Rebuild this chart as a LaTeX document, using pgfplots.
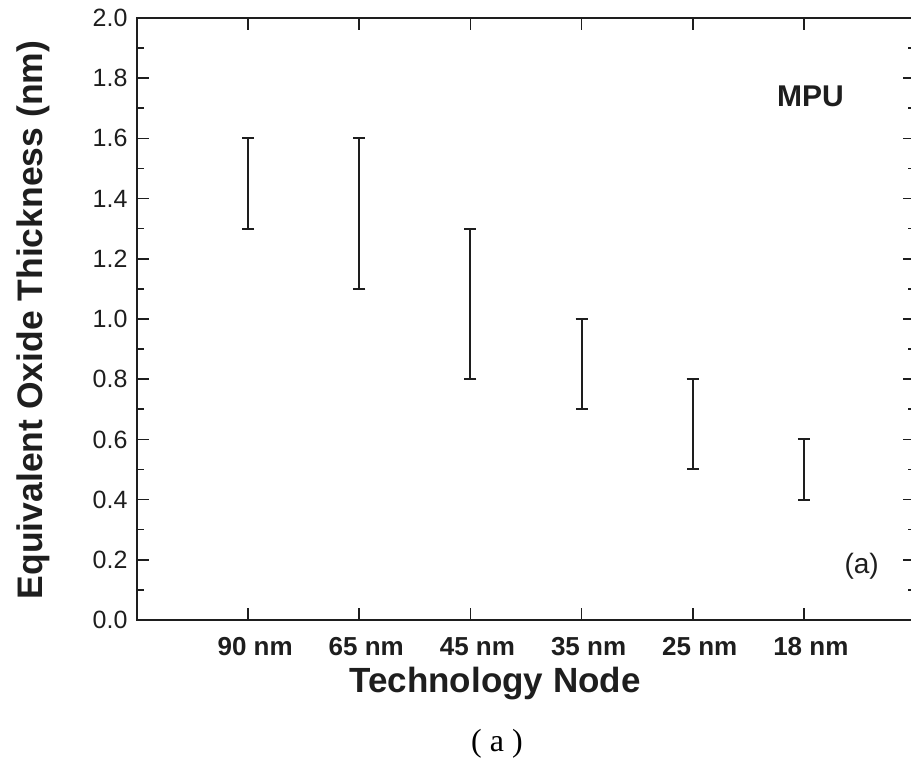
\documentclass[border=0pt]{standalone}
\usepackage{pgfplots}
\pgfplotsset{compat=1.18}
\usepackage{fontspec}
\setmainfont{Liberation Sans}
\newfontfamily\serif{Liberation Serif}
\definecolor{ink}{HTML}{1E1E1E}
\begin{document}
\begin{tikzpicture}[x=1bp,y=1bp]
\begin{axis}[
  name=ax, at={(137bp,151bp)}, anchor=south west,
  width=778bp, height=602bp, scale only axis,
  xmin=-1, xmax=6, ymin=0, ymax=2,
  xtick={0,1,2,3,4,5},
  xticklabels={90 nm,65 nm,45 nm,35 nm,25 nm,18 nm},
  ytick={0,0.2,...,2.01},
  minor y tick num=1,
  major tick length=12bp, minor tick length=7bp,
  tick style={line width=1.6bp, ink},
  axis line style={line width=2.4bp, ink},
  /pgf/number format/assume math mode=true,
  yticklabel style={font=\fontsize{25bp}{28bp}\selectfont, text=ink, xshift=-6bp, /pgf/number format/.cd, fixed, fixed zerofill, precision=1},
  xticklabel style={font=\bfseries\fontsize{26bp}{30bp}\selectfont, text=ink, yshift=-13bp, xshift=7bp, text height=19bp, text depth=0bp},
  clip=false,
]
\addplot+[black, line width=2bp, mark=none, draw=none,
  error bars/.cd, y dir=both, y explicit,
  error bar style={line width=2bp, ink},
  error mark options={rotate=90, mark size=6bp, line width=2bp, ink}]
  coordinates {
  (0,1.45) +- (0,0.15)
  (1,1.35) +- (0,0.25)
  (2,1.05) +- (0,0.25)
  (3,0.85) +- (0,0.15)
  (4,0.65) +- (0,0.15)
  (5,0.50) +- (0,0.10)
  };
\node[text=ink, font=\bfseries\fontsize{30bp}{34bp}\selectfont] at (axis cs:5.06,1.741) {MPU};
\node[text=ink, font=\fontsize{28bp}{32bp}\selectfont] at (axis cs:5.52,0.179) {(a)};
\end{axis}
\node[rotate=90, text=ink, font=\bfseries\fontsize{35.5bp}{40bp}\selectfont] at (33bp,451bp) {Equivalent Oxide Thickness (nm)};
\node[text=ink, font=\bfseries\fontsize{35bp}{40bp}\selectfont] at (495bp,87bp) {Technology Node};
\node[text=black, font=\serif\fontsize{32bp}{36bp}\selectfont] at (497bp,27bp) {(\hspace{8bp}a\hspace{8bp})};
\pgfresetboundingbox
\path (0bp,0bp) rectangle (911bp,771bp);
\end{tikzpicture}
\end{document}
